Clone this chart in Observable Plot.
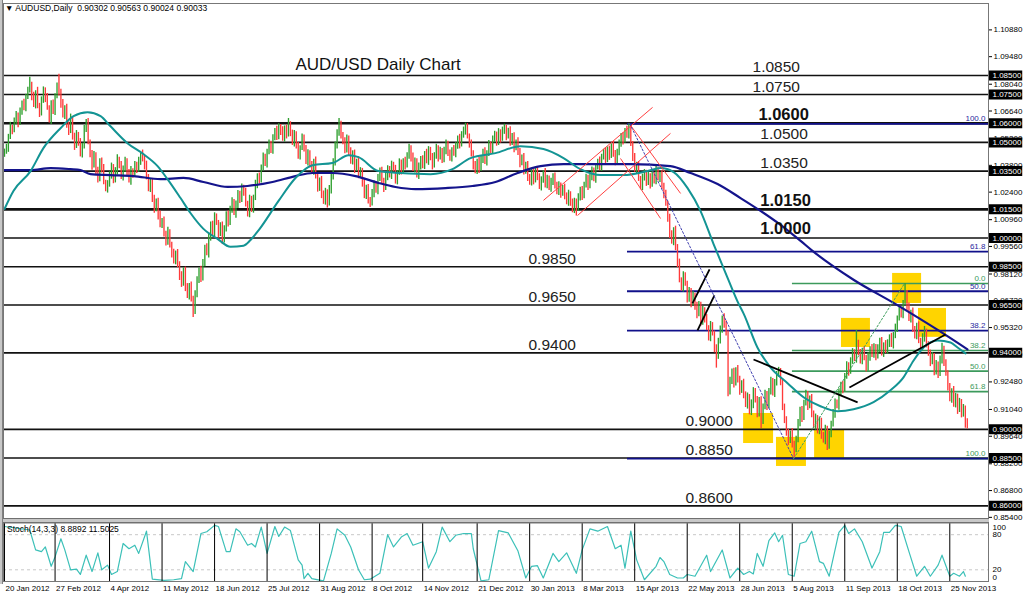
<!DOCTYPE html>
<html><head><meta charset="utf-8">
<script src="https://cdn.jsdelivr.net/npm/d3@7"></script>
<script src="https://cdn.jsdelivr.net/npm/@observablehq/plot@0.6"></script>
<style>
body{margin:0;background:#fff;}
#wrap{position:relative;width:1024px;height:597px;overflow:hidden;font-family:"Liberation Sans",Arial,sans-serif;background:#fff;}
#main,#stoch{position:absolute;left:0;}
#main{top:0}
#stoch{top:519px}
#sep{position:absolute;left:0;top:518px;width:989px;height:3px;background:#c8c8c8;border-top:1px solid #707070;border-bottom:1px solid #707070;}
#ledge{position:absolute;left:0;top:0;width:2px;height:584px;background:#c8c8c8;border-right:1px solid #808080;}
#hdr{position:absolute;left:5px;top:3px;font-size:8.5px;color:#000;white-space:pre;}
#stlab{position:absolute;left:7px;top:524px;font-size:8.5px;color:#000;white-space:pre;}
</style></head><body>
<div id="wrap"><div id="main"></div><div id="stoch"></div><div id="sep"></div><div id="ledge"></div>
<div id="hdr">▼ AUDUSD,Daily  0.90302 0.90563 0.90024 0.90033</div>
<div id="stlab">Stoch(14,3,3) 8.8892 11.5025</div>
</div>
<script>
// ---------- DATA (prices in pips = price * 10000) ----------
const firstOpen = 10440;
const closes = [
10450,10470,10530,10580,10560,10610,10640,10600,10660,10700,
10680,10740,10770,10800,10740,10700,10760,10690,10650,10720,
10770,10730,10680,10620,10700,10660,10740,10790,10760,10700,
10640,10680,10590,10560,10620,10530,10480,10540,10500,10440,
10480,10570,10600,10500,10440,10380,10430,10350,10310,10400,
10360,10290,10260,10280,10330,10370,10300,10350,10410,10380,
10320,10360,10400,10340,10300,10350,10330,10380,10360,10400,
10430,10410,10380,10320,10260,10290,10200,10150,10190,10120,
10070,10090,10020,9980,10030,9960,9920,9880,9920,9860,
9800,9760,9830,9740,9700,9750,9680,9620,9700,9780,
9830,9790,9870,9950,9920,10000,10070,10030,10110,10080,
10020,10060,9990,10050,10120,10080,10150,10190,10130,10170,
10230,10200,10260,10240,10180,10130,10200,10150,10210,10280,
10320,10300,10370,10420,10390,10450,10490,10460,10520,10560,
10530,10580,10560,10520,10570,10540,10590,10550,10500,10540,
10480,10430,10470,10520,10470,10400,10440,10380,10350,10400,
10320,10260,10300,10230,10190,10240,10180,10250,10320,10400,
10480,10550,10590,10540,10500,10460,10520,10450,10400,10440,
10360,10400,10330,10350,10290,10220,10260,10200,10180,10230,
10280,10250,10310,10350,10300,10260,10320,10360,10330,10380,
10360,10300,10340,10390,10350,10400,10380,10430,10470,10420,
10360,10400,10330,10370,10410,10380,10440,10400,10460,10420,
10380,10430,10470,10420,10450,10410,10460,10490,10440,10420,
10460,10440,10480,10520,10490,10540,10560,10580,10530,10490,
10440,10380,10350,10400,10360,10410,10450,10400,10440,10490,
10460,10510,10540,10500,10550,10520,10560,10570,10530,10560,
10500,10530,10470,10500,10450,10390,10420,10350,10380,10320,
10290,10340,10300,10350,10320,10270,10300,10340,10280,10310,
10260,10290,10320,10280,10240,10270,10230,10260,10220,10190,
10230,10180,10150,10190,10160,10210,10250,10220,10280,10310,
10270,10320,10350,10310,10370,10400,10370,10420,10450,10410,
10460,10430,10480,10440,10400,10450,10490,10530,10510,10560,
10540,10570,10490,10420,10360,10380,10310,10270,10310,10340,
10290,10320,10280,10330,10300,10350,10310,10330,10270,10230,
10180,10100,10020,9980,10040,9950,9870,9780,9740,9800,
9760,9680,9720,9660,9700,9640,9600,9650,9560,9620,
9580,9530,9480,9540,9500,9420,9390,9460,9520,9580,
9550,9500,9200,9250,9300,9240,9310,9260,9200,9240,
9180,9130,9170,9090,9130,9200,9150,9080,9150,9040,
9120,9180,9120,9200,9250,9190,9240,9290,9300,9250,
9110,9050,8980,8940,8980,8920,8890,8950,9030,9100,
9060,9140,9180,9120,9160,9080,9020,9060,8990,9040,
8970,8940,9000,8920,8970,9030,9080,9140,9120,9190,
9230,9210,9280,9330,9300,9360,9400,9370,9450,9400,
9360,9410,9370,9320,9380,9420,9390,9430,9380,9420,
9460,9400,9440,9410,9450,9480,9440,9490,9530,9580,
9620,9600,9660,9710,9640,9580,9610,9520,9490,9540,
9460,9430,9480,9500,9440,9400,9350,9380,9300,9340,
9290,9360,9420,9350,9290,9220,9160,9200,9130,9170,
9100,9140,9080,9110,9030,9003];
const upperWick = [
15,20,12,25,10,18,22,14,20,16, 25,12,18,40,15,22,10,28,14,18,
20,15,26,12,18,22,14,20,66,18, 24,12,20,16,28,14,18,22,12,20,
15,18,20,25,12,18,22,16,20,14, 18,24,12,20,16,22,14,18,26,12,
20,16,22,14,18,24,12,20,16,22, 14,30,18,22,12,20,16,24,14,18,
22,12,20,16,26,14,18,22,12,20, 16,24,14,18,22,12,20,16,24,18,
14,22,18,12,20,26,14,18,22,16, 12,20,24,14,18,22,16,20,12,24,
18,14,22,16,20,12,24,18,14,22, 16,20,12,24,18,14,22,16,20,12,
24,18,14,22,16,20,35,18,14,22, 16,20,12,24,18,14,22,16,20,12,
24,18,14,22,16,20,12,24,18,14, 22,16,35,20,12,24,18,14,22,16,
20,12,24,18,14,22,16,20,12,24, 18,14,22,16,20,12,24,18,14,22,
16,20,12,24,18,14,22,16,20,12, 24,18,14,22,16,20,12,24,18,14,
22,16,20,12,24,18,14,22,16,20, 12,24,18,14,22,16,20,20,18,14,
22,16,20,12,24,18,14,22,16,20, 12,24,18,14,22,16,20,25,18,14,
22,16,20,12,24,18,14,22,16,20, 12,24,18,14,22,16,20,12,24,18,
14,22,16,20,12,24,18,14,22,16, 20,12,24,18,14,22,16,20,12,24,
18,14,22,16,20,12,24,18,14,22, 16,20,12,24,18,14,22,16,20,12,
24,27,18,14,22,16,20,12,24,18, 14,22,16,20,12,24,18,14,22,16,
20,12,24,18,14,22,16,20,12,24, 18,14,22,16,20,12,24,18,14,22,
16,20,12,24,18,14,22,16,20,12, 24,18,14,22,16,20,12,24,18,14,
22,16,20,12,24,18,14,22,16,20, 12,24,18,14,22,16,20,12,24,18,
14,22,16,20,12,24,18,14,22,16, 20,12,24,18,14,22,16,20,12,24,
18,14,22,16,20,12,24,18,14,22, 16,20,12,24,18,14,22,16,67,16,
18,14,22,16,20,12,24,18,14,22, 16,20,12,24,18,14,22,16,20,12,
24,18,14,52,16,20,12,24,18,14, 22,16,20,38,24,18,14,22,16,20,
12,24,30,14,14,16,20,12,24,18, 14,22,16,20,12,26];
const lowerWick = [
18,12,22,15,20,10,16,24,12,18, 14,20,16,12,22,18,25,14,20,12,
16,22,12,18,26,14,20,12,18,22, 12,20,16,24,14,18,22,12,20,16,
22,14,18,12,20,26,14,18,22,16, 20,12,18,25,14,22,16,12,20,18,
14,22,16,20,12,24,18,14,22,16, 20,12,24,16,18,22,14,20,12,26,
16,20,14,22,18,12,24,16,20,14, 22,18,12,20,16,24,14,35,20,12,
18,22,14,20,12,24,16,18,22,14, 20,12,24,16,18,22,14,20,12,26,
16,20,14,22,18,20,24,16,20,14, 22,18,12,20,16,24,14,18,22,12,
20,16,24,14,18,22,12,20,16,24, 14,18,22,12,20,16,24,14,18,22,
12,20,16,24,14,18,23,12,20,16, 24,14,18,22,12,20,16,24,14,18,
22,12,20,16,24,14,18,22,20,12, 20,16,24,14,18,22,12,20,16,24,
14,18,22,12,20,16,24,14,18,22, 12,20,16,24,14,18,22,12,20,16,
24,14,18,22,12,20,16,24,14,18, 22,12,20,16,24,14,18,22,12,20,
16,24,14,18,22,12,20,16,24,14, 18,22,12,20,16,24,14,18,22,12,
20,16,24,14,18,22,12,20,16,24, 14,18,22,12,20,16,24,14,18,22,
12,20,16,24,14,18,22,12,20,16, 24,14,18,22,45,20,16,24,14,18,
22,12,20,16,24,14,18,22,12,20, 16,24,14,18,22,12,20,16,24,14,
18,22,12,20,16,24,14,18,22,12, 20,16,24,14,18,22,12,20,16,24,
14,18,22,12,20,16,24,14,18,22, 12,20,16,24,14,18,22,12,20,16,
24,14,18,22,12,20,70,24,14,18, 22,12,30,20,16,24,14,18,22,12,
20,16,24,14,18,22,12,20,16,35, 14,18,22,12,20,16,24,14,18,22,
12,20,16,24,14,18,43,12,20,16, 24,14,18,22,12,20,16,24,14,18,
22,12,20,30,24,14,18,22,12,20, 16,24,14,18,22,12,20,16,24,14,
18,22,12,20,16,24,14,18,22,12, 20,16,24,14,18,22,12,20,16,24,
14,18,22,12,20,16,24,14,18,22, 12,20,16,24,14,18,22,12,20,16,
24,14,18,22,12,20,16,24,14,18, 22,12,20,16,24,1];

// moving averages (bar index, price)
const fastMAIdx = [0,4.6,13.4,20,28.8,35.5,42.7,49.4,54.5,63.2,71.4,78.7,83.8,90.5,95.6,102.3,109.5,116.2,122.9,126.5,130.6,140.9,149.6,158.4,168.6,176.9,182,192.3,203.6,219,230.3,239.6,252.4,265.3,277.1,287.4,296.1,306.4,318.3,330.6,337.3,344,351.2,357.8,364.5,371.7,377.4,380,387.1,393.8,402.6,410.8,419.5,428.3,436.5,446.8,455.5,462.2,467.4,472.5,479.7,486.4,490,494.1];
const fastMAVal = [1.0152,1.0246,1.035,1.047,1.0574,1.0637,1.0657,1.0637,1.0584,1.0496,1.0439,1.0376,1.0308,1.0209,1.0131,1.0048,0.9996,0.9954,0.9960,0.9990,1.0040,1.0194,1.0314,1.0381,1.0392,1.0433,1.0423,1.035,1.034,1.0334,1.036,1.0418,1.0444,1.048,1.0465,1.0418,1.036,1.0329,1.0329,1.035,1.0366,1.0345,1.0261,1.0142,0.997,0.9793,0.9657,0.9605,0.9428,0.9324,0.9241,0.9168,0.9121,0.9095,0.9105,0.9142,0.9204,0.9272,0.936,0.9428,0.9465,0.9454,0.9428,0.9397];
const slowMAIdx = [0,13.4,23.7,33.9,39.1,44.2,54.5,66.3,80.2,92,102.3,114.7,124.9,137.8,149.6,158.4,168.6,180.5,192.3,201,211.3,226.7,240.6,252.4,263.8,275.6,287.4,321.9,342.4,352.7,366.6,378.4,388.7,399,409.3,415.4,436.5,458.6,480.2,495.1];
const slowMAVal = [1.0355,1.0355,1.0366,1.036,1.0355,1.0334,1.0329,1.0324,1.0308,1.0314,1.0293,1.0267,1.0272,1.0293,1.0324,1.034,1.034,1.0324,1.0288,1.0267,1.0256,1.0261,1.0272,1.0293,1.034,1.0376,1.0386,1.0386,1.0376,1.034,1.0282,1.0209,1.0142,1.0069,0.9985,0.9933,0.9782,0.9652,0.9517,0.9418];

// stochastic %K (bar index, value)
const stochIdx = [0,13,16,19,21,24,26,29,31,34,37,39,42,45,48,50,53,55,58,61,64,67,69,73,76,82,87,91,93,97,101,104,108,110,114,116,119,121,125,127,129,132,135,139,141,144,147,151,153,154,156,158,164,168,171,175,178,182,185,188,193,197,200,204,207,210,215,218,222,225,229,232,236,240,241,245,249,254,259,264,268,271,274,277,282,285,289,294,297,301,305,310,314,317,319,322,325,329,335,337,339,342,346,349,351,355,361,363,369,373,377,380,383,385,387,390,393,396,398,400,403,406,409,412,415,419,421,424,429,432,434,437,441,446,450,452,455,458,461,465,469,473,476,480,482,486,488,491,493,494];
const stochVal = [94,88,54,51,59,26,42,73,54,20,21,12,45,17,49,20,28,12,17,65,56,62,48,86,4,2,3,5,34,17,82,85,96,94,51,51,90,85,62,65,59,93,48,94,77,93,87,37,28,5,14,5,1,48,90,79,59,20,3,4,14,80,59,76,82,62,68,23,51,93,68,79,82,82,56,1,3,87,83,52,6,26,27,6,48,34,49,14,54,90,86,94,56,62,23,86,37,3,26,41,34,12,6,6,12,9,45,17,54,6,23,12,17,13,48,26,70,83,68,79,12,9,65,68,86,34,31,9,84,96,82,90,68,23,51,84,84,96,94,51,9,26,9,28,45,9,14,9,17,9];

// horizontal support / resistance levels
const levels = [1.085,1.075,1.06,1.05,1.035,1.015,1.0,0.985,0.965,0.94,0.90,0.885,0.86];
const levelText = ["1.0850","1.0750","1.0600","1.0500","1.0350","1.0150","1.0000","0.9850","0.9650","0.9400","0.9000","0.8850","0.8600"];
const levelBoxText = ["1.08500","1.07500","1.06000","1.05000","1.03500","1.01500","1.00000","0.98500","0.96500","0.94000","0.90000","0.88500","0.86000"];
// price-axis ticks
const yTicks = [1.1088,1.0948,1.0804,1.0664,1.052,1.038,1.024,1.0096,0.9956,0.9812,0.9672,0.9532,0.9392,0.9248,0.9104,0.8964,0.882,0.868,0.854];
// date axis
const dateIdx = [0,26,54,81,108,135,162,189,215,243,270,297,324,351,378,405,432,459,486];
const dateText = ["20 Jan 2012","27 Feb 2012","4 Apr 2012","11 May 2012","18 Jun 2012","25 Jul 2012","31 Aug 2012","8 Oct 2012","14 Nov 2012","21 Dec 2012","30 Jan 2013","8 Mar 2013","15 Apr 2013","22 May 2013","28 Jun 2013","5 Aug 2013","11 Sep 2013","18 Oct 2013","25 Nov 2013"];

// Fibonacci retracements
const blueFibStart = 320.3;
const blueFibLevels = [1.0597,0.9929,0.9722,0.9516,0.8847];
const blueFibText = ["100.0","61.8","50.0","38.2","0.0"];
const greenFibStart = 405.1;
const greenFibLevels = [0.9762,0.9412,0.93045,0.9197,0.8847];
const greenFibText = ["0.0","38.2","50.0","61.8","100.0"];

// highlighted zones [i1, i2, p1, p2]
const boxes = [[380,395.4,0.8926,0.9083],[396.9,412.3,0.8806,0.8958],[416.5,431.9,0.8843,0.8994],[430.3,445.2,0.9428,0.958],[456.6,471.5,0.9658,0.9815],[469.9,484.3,0.9481,0.9632]];
// red channel lines [i1,p1,i2,p2]
const redLines = [[277.1,1.0197,333.2,1.0683],[294.6,1.0118,342.4,1.0547],[321.9,1.0589,347.6,1.0233],[316.7,1.0416,337.3,1.0102]];
// black trend lines
const blackLines = [[353.7,0.9658,362.5,0.9836],[356.3,0.9517,365.0,0.97],[385.1,0.9365,438.6,0.9141],[434.4,0.9219,483.8,0.9496]];
// dotted fib trend lines
const blueDotted = [[321.5,1.0597],[405.7,0.8847]];
const greenDotted = [[405.7,0.8847],[462.7,0.9762]];

// text annotations
const titleText = "AUD/USD Daily Chart";
const titlePos = [149.6, 1.0907];
const levelLabelIdx = [384.6,384.6,387.6,388.6,388.6,388.6,388.6,269.4,269.4,269.4,350.1,350.1,350.1];

// ---------- LAYOUT ----------
const W = 1024;
const X_DOMAIN = [-0.514, 505.9];
const BOX_X1 = 506.4, BOX_X2 = 523.5;
const FONT = "Liberation Sans, Arial, sans-serif";

const bars = closes.map((c, i) => {
  const o = i === 0 ? firstOpen : closes[i - 1];
  return {i, up: c >= o, hi: (Math.max(o, c) + upperWick[i]) / 1e4, lo: (Math.min(o, c) - lowerWick[i]) / 1e4};
});
const fast = fastMAIdx.map((x, k) => ({x, y: fastMAVal[k]}));
const slow = slowMAIdx.map((x, k) => ({x, y: slowMAVal[k]}));
const stoch = stochIdx.map((x, k) => ({x, y: stochVal[k]}));
const lv = levels.map((y, k) => ({y, t: levelText[k], b: levelBoxText[k], x: levelLabelIdx[k],
  big: ["1.0600","1.0150","1.0000"].includes(levelText[k]),
  w: ["1.0600","1.0150"].includes(levelText[k]) ? 2.6 : 1.6}));
const bf = blueFibLevels.map((y, k) => ({y, t: blueFibText[k]}));
const gf = greenFibLevels.map((y, k) => ({y, t: greenFibText[k]}));
const bx = boxes.map(d => ({x1: d[0], x2: d[1], y1: d[2], y2: d[3]}));
const seg = a => a.map(d => ({x1: d[0], y1: d[1], x2: d[2], y2: d[3]}));

const main = Plot.plot({
  width: W, height: 521,
  marginLeft: 3, marginRight: 36, marginTop: 3, marginBottom: 3,
  x: {domain: X_DOMAIN, axis: null},
  y: {domain: [0.8534, 1.1226], axis: null},
  style: {fontFamily: FONT, background: "transparent", overflow: "visible"},
  marks: [
    Plot.rect(bx, {x1: "x1", x2: "x2", y1: "y1", y2: "y2", fill: "#ffd400"}),
    Plot.ruleY(lv, {y: "y", stroke: "#111", strokeWidth: "w"}),
    Plot.ruleY(gf, {y: "y", x1: greenFibStart, x2: X_DOMAIN[1], stroke: "#3c9a5c", strokeWidth: 1.6}),
    Plot.ruleY(bf, {y: "y", x1: blueFibStart, x2: X_DOMAIN[1], stroke: "#10108a", strokeWidth: 1.8}),
    Plot.ruleX(bars, {x: "i", y1: "lo", y2: "hi", stroke: d => d.up ? "#2fa02f" : "#ff3a3a", strokeWidth: 1.35}),
    Plot.line(slow, {x: "x", y: "y", stroke: "#14148c", strokeWidth: 2.2, curve: "monotone-x"}),
    Plot.line(fast, {x: "x", y: "y", stroke: "#139494", strokeWidth: 2, curve: "monotone-x"}),
    Plot.link(seg(redLines), {x1: "x1", y1: "y1", x2: "x2", y2: "y2", stroke: "#ff4040", strokeWidth: 1}),
    Plot.link(seg(blackLines), {x1: "x1", y1: "y1", x2: "x2", y2: "y2", stroke: "#000", strokeWidth: 1.8}),
    Plot.line(blueDotted, {x: d => d[0], y: d => d[1], stroke: "#4040b0", strokeWidth: 1, strokeDasharray: "2,2"}),
    Plot.line(greenDotted, {x: d => d[0], y: d => d[1], stroke: "#40a060", strokeWidth: 1, strokeDasharray: "2,2"}),
    // level labels
    Plot.text(lv.filter(d => !d.big), {x: "x", y: "y", text: "t", textAnchor: "start", dy: -8, fontSize: 15.5, fill: "#222"}),
    Plot.text(lv.filter(d => d.big), {x: "x", y: "y", text: "t", textAnchor: "start", dy: -9, fontSize: 16.5, fontWeight: "bold", fill: "#111"}),
    Plot.text([titleText], {x: titlePos[0], y: titlePos[1], text: d => d, textAnchor: "start", fontSize: 17, fill: "#111"}),
    // fib labels
    Plot.text(gf, {x: X_DOMAIN[1], y: "y", text: "t", textAnchor: "end", dx: -3, dy: -5, fontSize: 8, fill: "#3c9a5c"}),
    Plot.text(bf.filter(d => d.t !== "0.0"), {x: X_DOMAIN[1], y: "y", text: "t", textAnchor: "end", dx: -3, dy: -5, fontSize: 8, fill: "#2828a0"}),
    // price axis
    Plot.axisY(yTicks, {anchor: "right", tickSize: 3, tickPadding: 2, tickFormat: d3.format(".5f"), fontSize: 8, label: null, stroke: "#000"}),
    Plot.ruleY(lv, {y: "y", x1: BOX_X1, x2: BOX_X2, stroke: "#000", strokeWidth: 10}),
    Plot.text(lv, {x: BOX_X1, y: "y", text: "b", textAnchor: "start", dx: 3, fontSize: 8, fill: "#fff"}),
    Plot.frame({stroke: "#777"})
  ]
});
document.getElementById("main").appendChild(main);

const st = Plot.plot({
  width: W, height: 78,
  marginLeft: 3, marginRight: 36, marginTop: 3.5, marginBottom: 16,
  x: {domain: X_DOMAIN, axis: null},
  y: {domain: [0, 100], axis: null},
  style: {fontFamily: FONT, background: "transparent", overflow: "visible"},
  marks: [
    Plot.ruleY([20, 80], {stroke: "#c8c8c8", strokeDasharray: "3,3"}),
    Plot.line(stoch, {x: "x", y: "y", stroke: "#3cc0b8", strokeWidth: 1.2}),
    Plot.text([100], {frameAnchor: "right", y: d => d, text: d => String(d), textAnchor: "start", dx: 4, dy: 4, fontSize: 8}),
    Plot.text([80, 20], {frameAnchor: "right", y: d => d, text: d => String(d), textAnchor: "start", dx: 4, fontSize: 8}),
    Plot.text([0], {frameAnchor: "right", y: d => d, text: d => String(d), textAnchor: "start", dx: 4, dy: -4, fontSize: 8}),
    Plot.tickX(dateIdx, {x: d => d, y1: -6, y2: 0, stroke: "#000"}),
    Plot.text(dateIdx, {x: d => d, frameAnchor: "bottom", text: (d, k) => dateText[k], textAnchor: "start", dy: 9, dx: 1, fontSize: 8, fill: "#000"}),
    Plot.frame({stroke: "#777"})
  ]
});
document.getElementById("stoch").appendChild(st);
</script>
</body></html>
